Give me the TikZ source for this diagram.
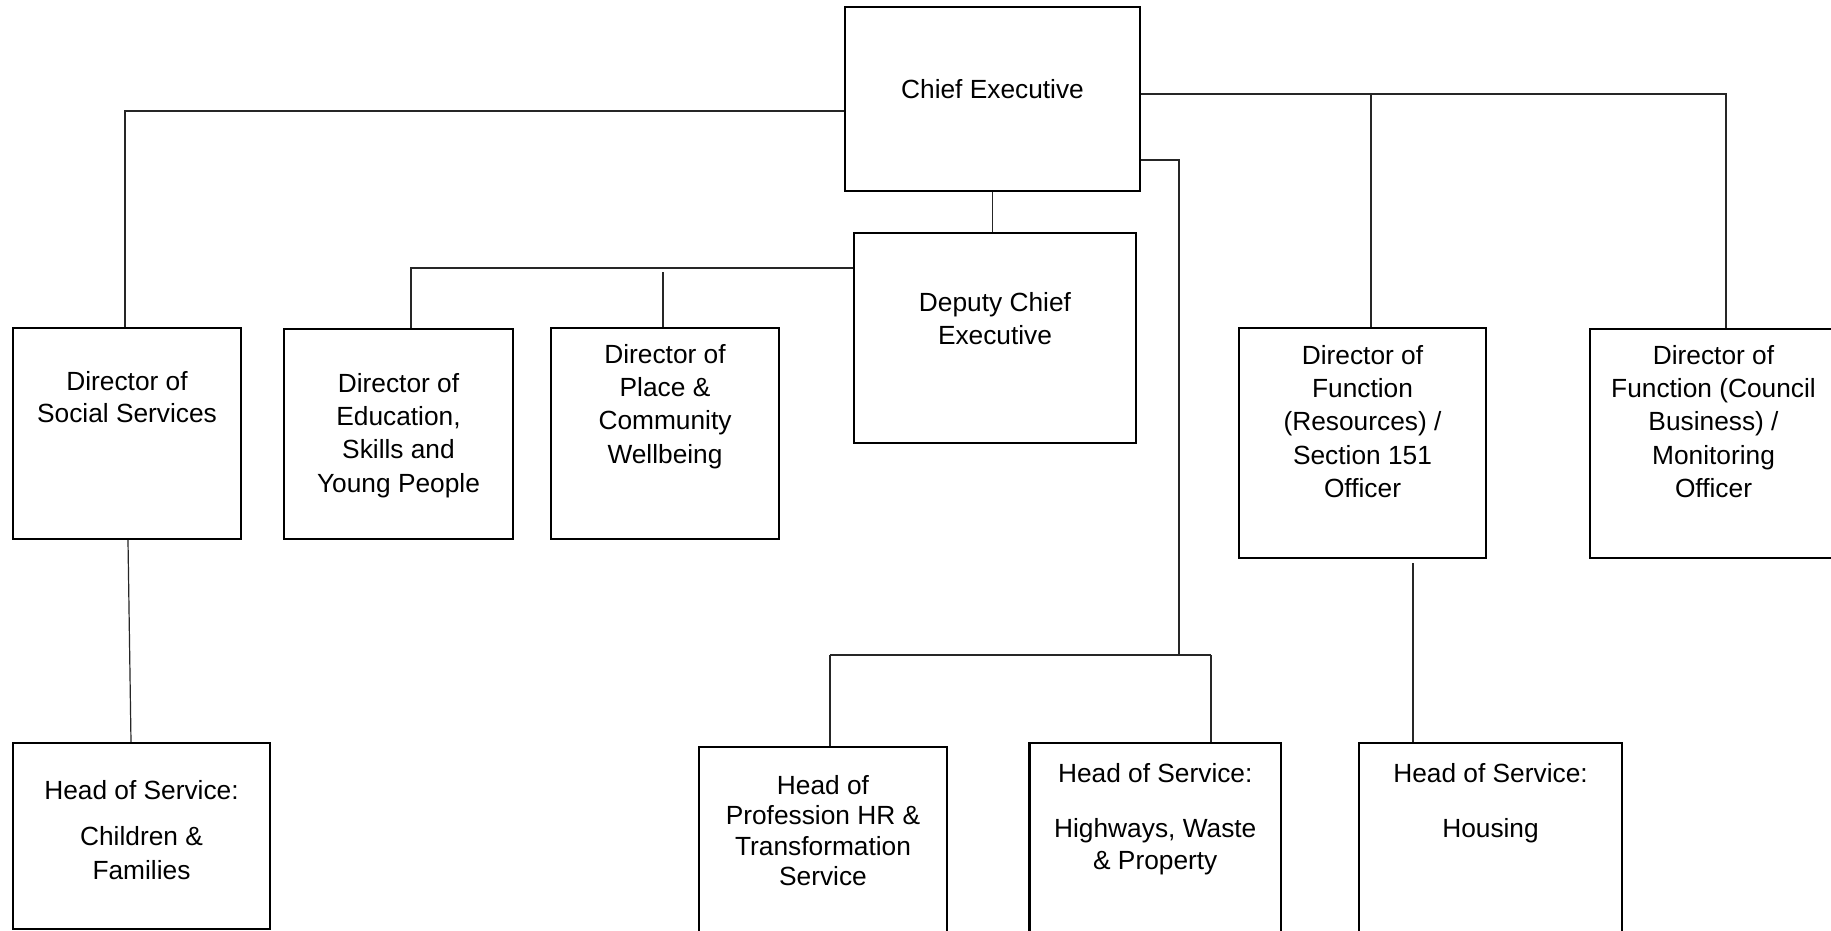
\documentclass[tikz,border=0pt]{standalone}
\usepackage{fontspec}
\setmainfont{Liberation Sans}
\newcommand\orglines[2][16.5pt]{{\fontsize{13.15pt}{#1}\selectfont\begin{tabular}[t]{@{}c@{}}#2\end{tabular}}}
\tikzset{
  box/.style={draw, line width=1.2pt, rectangle, inner sep=0pt},
  conn/.style={draw, line width=0.6pt, black!85},
  txt/.style={anchor=base, inner sep=0pt},
}
\begin{document}
\begin{tikzpicture}[x=0.5pt,y=-0.5pt]
\useasboundingbox (0,0) rectangle (1831,931);
\fill[white] (0,0) rectangle (1831,931);
\clip (0,0) rectangle (1831,931);
% boxes
\node[box,minimum width=147.5pt,minimum height=92pt] (ce) at (992.5,99) {};
\node[box,minimum width=141pt,minimum height=105pt] (dep) at (995,338) {};
\node[box,minimum width=114pt,minimum height=105.5pt] (soc) at (127,433.5) {};
\node[box,minimum width=114.5pt,minimum height=105pt] (edu) at (398.5,434) {};
\node[box,minimum width=114pt,minimum height=105.5pt] (pla) at (665,433.5) {};
\node[box,minimum width=123.5pt,minimum height=115pt] (res) at (1362.5,443) {};
\node[box,minimum width=123.5pt,minimum height=114.5pt] (cou) at (1713.5,443.5) {};
\node[box,minimum width=128.5pt,minimum height=93pt] (ch) at (141.5,836) {};
\node[box,minimum width=124pt,minimum height=96.5pt] (hr) at (823,843.5) {};
\node[box,minimum width=125.75pt,minimum height=98.5pt] (hw) at (1155.25,841.5) {};
\node[box,minimum width=131.5pt,minimum height=98.5pt] (hou) at (1490.5,841.5) {};
% texts
\node[txt] (ceT) at (992.5,99) {\orglines{Chief Executive}};
\node[txt] (depT) at (995,311) {\orglines{Deputy Chief\\Executive}};
\node[txt] (socT) at (127,390) {\orglines[16pt]{Director of\\Social Services}};
\node[txt] (eduT) at (398.5,392) {\orglines[16.67pt]{Director of\\Education,\\Skills and\\Young People}};
\node[txt] (plaT) at (665,363) {\orglines[16.67pt]{Director of\\Place \&\\Community\\Wellbeing}};
\node[txt] (resT) at (1362.5,364) {\orglines[16.67pt]{Director of\\Function\\(Resources) /\\Section 151\\Officer}};
\node[txt] (couT) at (1713.5,364) {\orglines[16.67pt]{Director of\\Function (Council\\Business) /\\Monitoring\\Officer}};
\node[txt] (chT) at (141.5,799) {\orglines[17pt]{Head of Service:\\[6pt]Children \&\\Families}};
\node[txt] (hrT) at (823,794) {\orglines[15.25pt]{Head of\\Profession HR \&\\Transformation\\Service}};
\node[txt] (hwT) at (1155.25,782) {\orglines[16pt]{Head of Service:\\[11.5pt]Highways, Waste\\\& Property}};
\node[txt] (houT) at (1490.5,782) {\orglines[16pt]{Head of Service:\\[11.5pt]Housing}};
% junctions
\coordinate (jL) at (125,111);
\coordinate (jR1) at (1726,94);
\coordinate (jR2) at (1371,94);
\coordinate (jR3) at (1179,160);
\coordinate (jB) at (1179,655);
\coordinate (jBL) at (830,655);
\coordinate (jBR) at (1211,655);
\coordinate (jD) at (411,268);
\coordinate (jP) at (663,272);
\coordinate (jS1) at (128,0);
\coordinate (jS2) at (131,0);
\coordinate (jH) at (1413,563);
% connectors
\draw[conn] (ce.west |- jL) -- (jL) -- (jL |- soc.north);
\draw[conn] (ce.east |- jR1) -- (jR1) -- (jR1 |- cou.north);
\draw[conn] (jR2) -- (jR2 |- res.north);
\draw[conn] (ce.east |- jR3) -- (jR3) -- (jB);
\draw[conn] (jBL) -- (jBR);
\draw[conn] (jBL) -- (jBL |- hr.north);
\draw[conn] (jBR) -- (jBR |- hw.north);
\draw[conn] (ce.south) -- (ce.south |- dep.north);
\draw[conn] (dep.west |- jD) -- (jD) -- (jD |- edu.north);
\draw[conn] (jP) -- (jP |- pla.north);
\draw[conn] (soc.south -| jS1) -- (ch.north -| jS2);
\draw[conn] (jH) -- (jH |- hou.north);
\end{tikzpicture}
\end{document}
